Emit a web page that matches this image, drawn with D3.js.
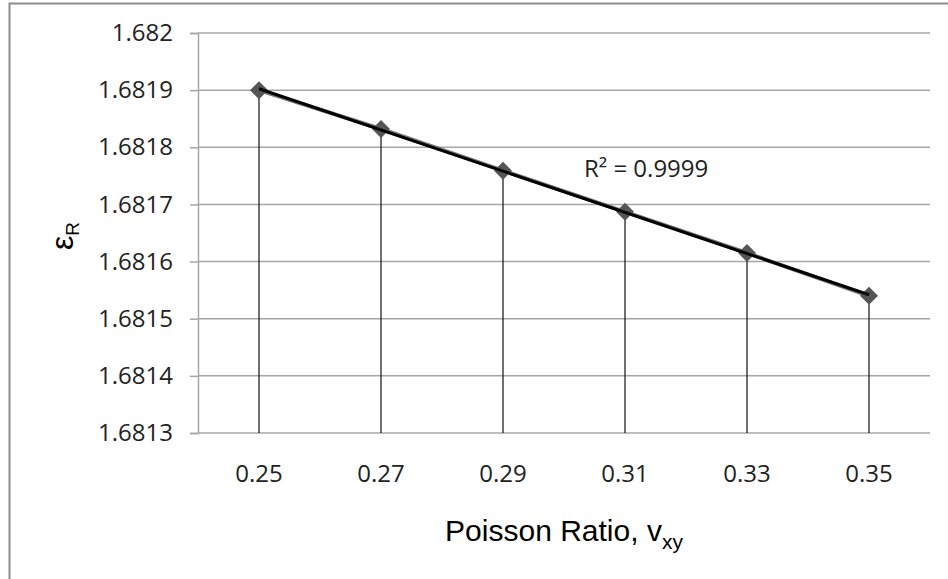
<!DOCTYPE html>
<html>
<head>
<meta charset="utf-8">
<script src="https://cdn.jsdelivr.net/npm/d3@7"></script>
<style>
  body { margin: 0; background: #fff; }
  svg { display: block; }
</style>
</head>
<body>
<svg id="chart" width="948" height="579"></svg>
<script>
// poisson ratio vs eps_R, excel-style scatter w/ drop lines + trendline

const categories = ["0.25", "0.27", "0.29", "0.31", "0.33", "0.35"];
const epsR = [1.68190, 1.681832, 1.681759, 1.681687, 1.681615, 1.681540];
const yTicks = [1.6813, 1.6814, 1.6815, 1.6816, 1.6817, 1.6818, 1.6819, 1.682];
const r2Label = "R² = 0.9999";

const W = 948, H = 579;
const plot = { left: 198, right: 930, top: 33, bottom: 433 };
const TICK_FONT = "'Open Sans', 'DejaVu Sans', sans-serif";
const GRID_COLOR = "#a6a6a6";

const svg = d3.select("#chart");

// outer chart border (runs off the right and bottom of the image)
svg.append("rect")
  .attr("x", 9.5).attr("y", 3.5)
  .attr("width", W).attr("height", H)
  .attr("fill", "none")
  .attr("stroke", "#8c8c8c")
  .attr("stroke-width", 2);

const x = d3.scaleBand()
  .domain(categories)
  .range([plot.left, plot.right]);

const y = d3.scaleLinear()
  .domain([1.6813, 1.682])
  .range([plot.bottom, plot.top]);

// y axis with gridlines
const yAxis = svg.append("g")
  .attr("transform", `translate(${plot.left},0)`)
  .call(d3.axisLeft(y)
    .tickValues(yTicks)
    .tickSize(8)
    .tickPadding(17)
    .tickFormat(d => d3.format(".4~f")(d)));

yAxis.select(".domain").attr("stroke", GRID_COLOR).attr("stroke-width", 1.5);
yAxis.selectAll(".tick line").attr("stroke", GRID_COLOR).attr("stroke-width", 1.5);
yAxis.selectAll(".tick text")
  .attr("font-family", TICK_FONT)
  .attr("font-size", "24px")
  .attr("fill", "#222");

svg.append("g")
  .selectAll("line")
  .data(yTicks)
  .join("line")
  .attr("x1", plot.left)
  .attr("x2", plot.right)
  .attr("y1", d => y(d))
  .attr("y2", d => y(d))
  .attr("stroke", GRID_COLOR)
  .attr("stroke-width", 1.5);

// x axis labels (no tick marks)
const xAxis = svg.append("g")
  .attr("transform", `translate(0,${plot.bottom})`)
  .call(d3.axisBottom(x).tickSize(0).tickPadding(32));
xAxis.select(".domain").remove();
xAxis.selectAll(".tick text")
  .attr("font-family", TICK_FONT)
  .attr("font-size", "24px")
  .attr("fill", "#222");

const cx = (d, i) => x(categories[i]) + x.bandwidth() / 2;

// drop lines
svg.append("g")
  .selectAll("line")
  .data(epsR)
  .join("line")
  .attr("x1", cx)
  .attr("x2", cx)
  .attr("y1", d => y(d))
  .attr("y2", plot.bottom)
  .attr("stroke", "#111")
  .attr("stroke-width", 1.2);

// series line
const line = d3.line()
  .x((d, i) => cx(d, i))
  .y(d => y(d));

svg.append("path")
  .datum(epsR)
  .attr("d", line)
  .attr("fill", "none")
  .attr("stroke", "#777")
  .attr("stroke-width", 4);

// markers
svg.append("g")
  .selectAll("path")
  .data(epsR)
  .join("path")
  .attr("transform", (d, i) => `translate(${cx(d, i)},${y(d)})`)
  .attr("d", "M0,-9L9,0L0,9L-9,0Z")
  .attr("fill", "#555");

// linear trendline (least squares over category index)
const n = epsR.length;
const idx = d3.range(n);
const mx = d3.mean(idx), my = d3.mean(epsR);
const slope = d3.sum(idx, i => (i - mx) * (epsR[i] - my)) / d3.sum(idx, i => (i - mx) ** 2);
const icpt = my - slope * mx;
const trend = [icpt, icpt + slope * (n - 1)];

svg.append("line")
  .attr("x1", cx(0, 0))
  .attr("x2", cx(0, n - 1))
  .attr("y1", y(trend[0]))
  .attr("y2", y(trend[1]))
  .attr("stroke", "#000")
  .attr("stroke-width", 3);

// R^2 label
svg.append("text")
  .attr("x", 584)
  .attr("y", 177)
  .attr("font-family", TICK_FONT)
  .attr("font-size", "24px")
  .attr("fill", "#222")
  .text(r2Label);

// axis titles
const xTitle = svg.append("text")
  .attr("x", (plot.left + plot.right) / 2)
  .attr("y", 541)
  .attr("text-anchor", "middle")
  .attr("font-family", "'Liberation Sans', Arial, sans-serif")
  .attr("font-size", "30px")
  .attr("fill", "#000");
xTitle.append("tspan").text("Poisson Ratio, v");
xTitle.append("tspan")
  .attr("dy", 8)
  .attr("font-size", "21px")
  .text("xy");

const yTitle = svg.append("text")
  .attr("transform", "translate(73,236) rotate(-90)")
  .attr("text-anchor", "middle")
  .attr("font-family", "'Liberation Sans', Arial, sans-serif")
  .attr("font-size", "32px")
  .attr("fill", "#000");
yTitle.append("tspan").text("ε");
yTitle.append("tspan")
  .attr("dy", 6)
  .attr("font-size", "19px")
  .text("R");
</script>
</body>
</html>
